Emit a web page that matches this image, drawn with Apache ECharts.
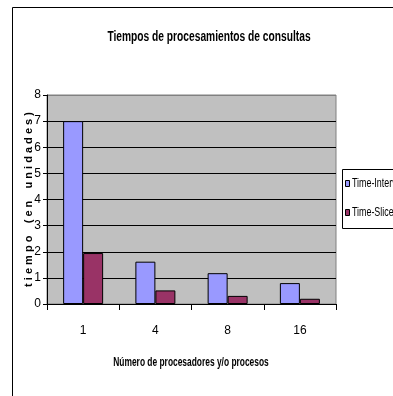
<!DOCTYPE html>
<html>
<head>
<meta charset="utf-8">
<script src="https://cdn.jsdelivr.net/npm/echarts@6/dist/echarts.min.js"></script>
<style>
  html, body { margin: 0; padding: 0; background: #fff; }
  #chart { width: 393px; height: 396px; }
</style>
</head>
<body>
<div id="chart"></div>
<script>
// Query processing times by number of processors / processes
const categories = ['1', '4', '8', '16'];
const seriesNames = ['Time-Interval', 'Time-Slice'];
const timeInterval = [7.0, 1.62, 1.18, 0.8];
const timeSlice = [1.95, 0.52, 0.31, 0.2];
const yTicks = { min: 0, max: 8, interval: 1 };

const FONT = '"Liberation Sans", Arial, sans-serif';
const COLORS = ['#9999ff', '#993366'];

const chart = echarts.init(document.getElementById('chart'), null, { renderer: 'canvas' });

// split line colours: black inside the plot, grey on the top edge
const gridLineColors = [];
for (let v = yTicks.min; v <= yTicks.max; v += yTicks.interval) {
  gridLineColors.push(v === yTicks.max ? '#808080' : '#000');
}

// condensed text helper (narrow face look via horizontal scaling)
function narrowText(text, x, y, size, weight, sx, align) {
  return {
    type: 'text',
    x: x, y: y,
    scaleX: sx,
    silent: true,
    style: {
      text: text,
      fontFamily: FONT,
      fontSize: size,
      fontWeight: weight,
      fill: '#000',
      align: align || 'center',
      verticalAlign: 'middle'
    }
  };
}

// legend box, partly running past the right edge
const legendGroup = {
  type: 'group',
  x: 342, y: 169,
  silent: true,
  children: [
    { type: 'rect', shape: { x: 0.5, y: 0.5, width: 90, height: 59 },
      style: { fill: '#fff', stroke: '#000', lineWidth: 1 } }
  ].concat(seriesNames.flatMap((name, i) => [
    { type: 'rect', shape: { x: 3.5, y: 11.5 + i * 29, width: 4, height: 6 },
      style: { fill: COLORS[i], stroke: '#000', lineWidth: 1 } },
    narrowText(name, 10, 14.5 + i * 29, 12, 'normal', 0.74, 'left')
  ]))
};

chart.setOption({
  backgroundColor: '#fff',
  animation: false,
  graphic: [
    { type: 'rect', shape: { x: 12.5, y: 7.5, width: 420, height: 420 },
      style: { fill: 'none', stroke: '#000', lineWidth: 1 }, silent: true },
    narrowText('Tiempos de procesamientos de consultas', 209, 37, 14, 'bold', 0.73),
    narrowText('Número de procesadores y/o procesos', 191, 363, 12, 'bold', 0.70),
    legendGroup
  ],
  grid: {
    left: 47,
    top: 95,
    right: 57,
    bottom: 92,
    show: true,
    backgroundColor: '#c0c0c0',
    borderColor: '#808080',
    borderWidth: 1
  },
  xAxis: {
    type: 'category',
    data: categories,
    axisLine: { lineStyle: { color: '#000', width: 1 } },
    axisTick: { show: true, length: 6, lineStyle: { color: '#000' } },
    axisLabel: { fontFamily: FONT, fontSize: 12, color: '#000', margin: 21 }
  },
  yAxis: {
    type: 'value',
    min: yTicks.min,
    max: yTicks.max,
    interval: yTicks.interval,
    name: 't i e m p o    ( e n    u n i d a d e s )',
    nameLocation: 'middle',
    nameGap: 13,
    nameMoveOverlap: false,
    nameTextStyle: { fontFamily: FONT, fontSize: 11, fontWeight: 'bold', color: '#000' },
    axisLine: { show: true, lineStyle: { color: '#000', width: 1 } },
    axisTick: { show: true, length: 4, lineStyle: { color: '#000' } },
    axisLabel: { fontFamily: FONT, fontSize: 12, color: '#000', margin: 6 },
    splitLine: { show: true, lineStyle: { color: gridLineColors, width: 1 } }
  },
  series: [
    {
      name: seriesNames[0],
      type: 'bar',
      data: timeInterval,
      barWidth: 20,
      barGap: '0%',
      itemStyle: { color: COLORS[0], borderColor: '#000', borderWidth: 1 }
    },
    {
      name: seriesNames[1],
      type: 'bar',
      data: timeSlice,
      barWidth: 20,
      itemStyle: { color: COLORS[1], borderColor: '#000', borderWidth: 1 }
    }
  ]
});
</script>
</body>
</html>
